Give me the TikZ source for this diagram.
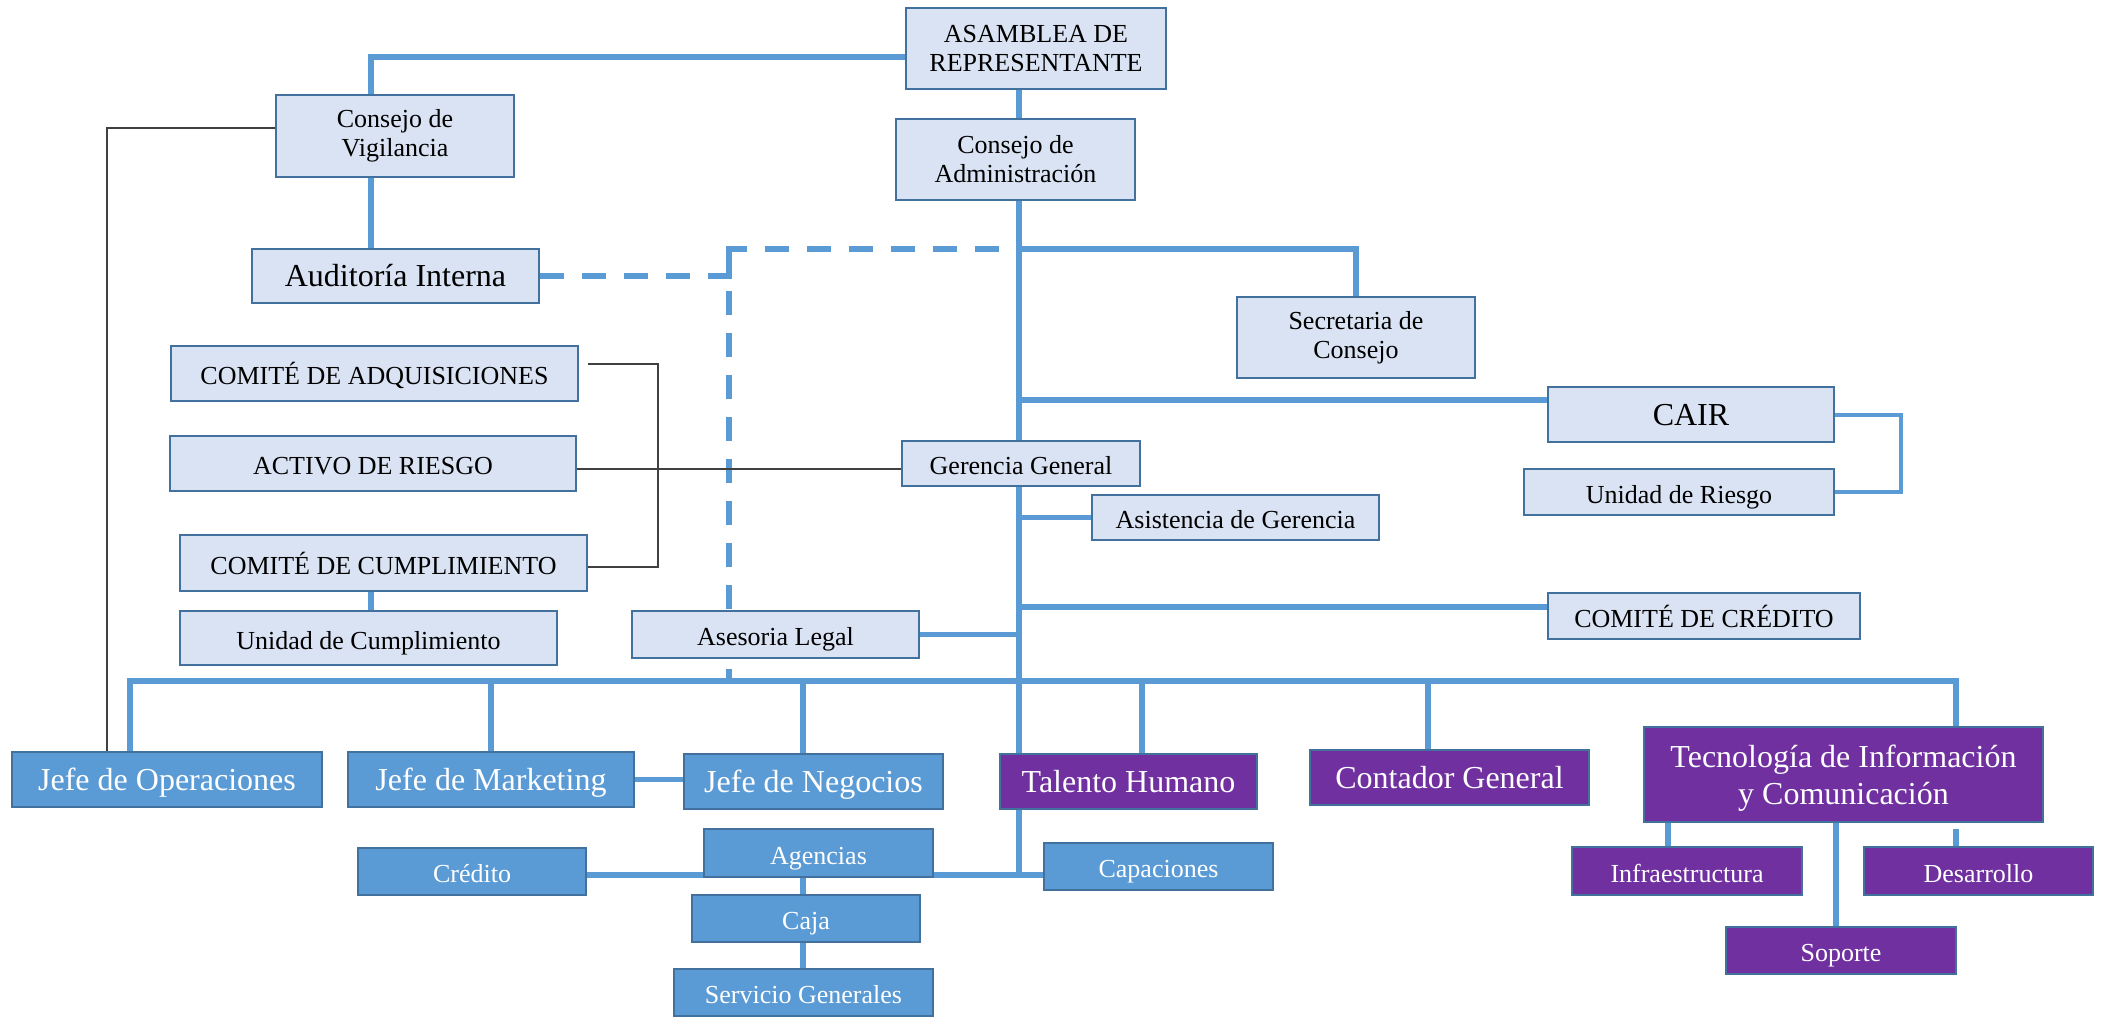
\documentclass[tikz,border=0pt]{standalone}
\usepackage{fontspec}
\setmainfont{Liberation Serif}
\usetikzlibrary{backgrounds}
\definecolor{paleblue}{HTML}{DAE3F3}
\definecolor{edgeblue}{HTML}{41719C}
\definecolor{linkblue}{HTML}{5B9BD5}
\definecolor{unitblue}{HTML}{5B9BD5}
\definecolor{deptpurple}{HTML}{7030A0}
\newcommand\orgsmall{\fontsize{13}{14.5}\selectfont}
\newcommand\orgbig{\fontsize{16}{18.5}\selectfont}
% a box given by its edges in pixels: name, left, top, right, bottom, style, text
\newcommand\orgbox[7]{%
  \node[#6, minimum width={(#4-#2-2)*0.5pt}, minimum height={(#5-#3-2)*0.5pt}]
    (#1) at ({(#2+#4)/2},{(#3+#5)/2}) {#7};}

\begin{document}
\begin{tikzpicture}[x=0.5pt,y=-0.5pt,
  box/.style={draw=edgeblue, line width=1.2pt, inner sep=0pt, align=center, font=\orgsmall},
  palebox/.style={box, fill=paleblue, text=black},
  unitbox/.style={box, fill=unitblue, text=white},
  deptbox/.style={box, fill=deptpurple, text=white},
  bigtext/.style={font=\orgbig},
  oneline/.style={text height=1.1em, text depth=0pt},
  bigline/.style={bigtext, text height=1.05em, text depth=0pt},
  conn/.style={draw=linkblue, line width=2.75pt},
  bracketline/.style={draw=linkblue, line width=2pt},
  dashconn/.style={conn, dash pattern=on 12pt off 9pt},
  fineline/.style={draw=black!75, line width=0.7pt},
]
\useasboundingbox (0,0) rectangle (2105,1017);

% ---- governing bodies ----
\orgbox{asam}{905}{7}{1167}{90}{palebox}{ASAMBLEA DE\\REPRESENTANTE}
\orgbox{cadm}{895}{118}{1136}{201}{palebox}{Consejo de\\Administración}
\orgbox{cvig}{275}{94}{515}{178}{palebox}{Consejo de\\Vigilancia}
\orgbox{audit}{251}{248}{540}{304}{palebox,bigline}{Auditoría Interna}
\orgbox{secr}{1236}{296}{1476}{379}{palebox}{Secretaria de\\Consejo}
\orgbox{cair}{1547}{386}{1835}{443}{palebox,bigline}{CAIR}
\orgbox{uriesgo}{1523}{468}{1835}{516}{palebox,oneline}{Unidad de Riesgo}
\orgbox{geren}{901}{440}{1141}{487}{palebox,oneline}{Gerencia General}
\orgbox{asist}{1091}{494}{1380}{541}{palebox,oneline}{Asistencia de Gerencia}

% ---- committees ----
\orgbox{cadq}{170}{345}{579}{402}{palebox,oneline}{COMITÉ DE ADQUISICIONES}
\orgbox{ariesgo}{169}{435}{577}{492}{palebox,oneline}{ACTIVO DE RIESGO}
\orgbox{ccump}{179}{534}{588}{592}{palebox,oneline}{COMITÉ DE CUMPLIMIENTO}
\orgbox{ucump}{179}{610}{558}{666}{palebox,oneline}{Unidad de Cumplimiento}
\orgbox{ccred}{1547}{592}{1861}{640}{palebox,oneline}{COMITÉ DE CRÉDITO}
\orgbox{aseso}{631}{610}{920}{659}{palebox,oneline}{Asesoria Legal}

% ---- departments ----
\orgbox{jope}{11}{751}{323}{808}{unitbox,bigline}{Jefe de Operaciones}
\orgbox{jmkt}{347}{751}{635}{808}{unitbox,bigline}{Jefe de Marketing}
\orgbox{jneg}{683}{753}{944}{810}{unitbox,bigline}{Jefe de Negocios}
\orgbox{thum}{999}{753}{1258}{810}{deptbox,bigline}{Talento Humano}
\orgbox{cont}{1309}{749}{1590}{806}{deptbox,bigline}{Contador General}
\orgbox{tic}{1643}{726}{2044}{823}{deptbox,bigtext}{\raisebox{-2pt}[\height][\depth]{\begin{tabular}{@{}c@{}}Tecnología de Información\\y Comunicación\end{tabular}}}

% ---- units ----
\orgbox{credito}{357}{847}{587}{896}{unitbox,oneline}{Crédito}
\orgbox{agencias}{703}{828}{934}{878}{unitbox,oneline}{Agencias}
\orgbox{capac}{1043}{842}{1274}{891}{unitbox,oneline}{Capaciones}
\orgbox{caja}{691}{894}{921}{943}{unitbox,oneline}{Caja}
\orgbox{servg}{673}{968}{934}{1017}{unitbox,oneline}{Servicio Generales}
\orgbox{infra}{1571}{846}{1803}{896}{deptbox,oneline}{Infraestructura}
\orgbox{desa}{1863}{846}{2094}{896}{deptbox,oneline}{Desarrollo}
\orgbox{sop}{1725}{926}{1957}{975}{deptbox,oneline}{Soporte}

% ---- reference lines for the connectors ----
\coordinate (spine) at (1019,0);
\coordinate (xCV) at (371,0);
\coordinate (xDash) at (729,0);
\coordinate (xBrk) at (658,0);
\coordinate (xBlk) at (107,0);
\coordinate (xJO) at (130,0);
\coordinate (xJN) at (803,0);
\coordinate (xTH) at (1142,0);
\coordinate (xCG) at (1428,0);
\coordinate (xTIC) at (1956,0);
\coordinate (xInf) at (1668,0);
\coordinate (xSop) at (1836,0);
\coordinate (xCair) at (1901,0);
\coordinate (yTop) at (0,57);
\coordinate (yVig) at (0,128);
\coordinate (ySec) at (0,249);
\coordinate (yCair) at (0,400);
\coordinate (yAdq) at (0,364);
\coordinate (yAct) at (0,469);
\coordinate (yCum) at (0,567);
\coordinate (yCred) at (0,607);
\coordinate (yBus) at (0,681);
\coordinate (yRow) at (0,875);

\begin{scope}[on background layer]
  % upper structure
  \draw[conn] (asam.west |- yTop) -| (cvig.north -| xCV);
  \draw[conn] (asam.south -| spine) -- (cadm.north -| spine);
  \draw[conn] (cvig.south -| xCV) -- (audit.north -| xCV);
  \draw[conn] (cadm.south -| spine) -- (geren.north -| spine);
  \draw[conn] (geren.south -| spine) -- (thum.north -| spine);
  \draw[conn] (thum.south -| spine) -- (spine |- yRow);
  \draw[conn] (spine |- ySec) -| (secr.north);
  \draw[conn] (spine |- yCair) -- (cair.west |- yCair);
  \draw[bracketline] (cair.east) -- (xCair |- cair.east) -- (xCair |- uriesgo.east) -- (uriesgo.east);
  \draw[conn] (spine |- asist.west) -- (asist.west);
  \draw[conn] (spine |- yCred) -- (ccred.west |- yCred);
  \draw[conn] (aseso.east) -- (spine |- aseso.east);
  % internal audit link (dashed)
  \draw[dashconn] (audit.east) -- (xDash |- audit.east) -- (xDash |- ySec) -- (spine |- ySec);
  \draw[dashconn] (xDash |- ySec) -- (xDash |- yBus);
  % committees
  \draw[fineline] ([xshift=4.5pt]cadq.east |- yAdq) -- (xBrk |- yAdq) -- (xBrk |- yCum) -- (ccump.east |- yCum);
  \draw[fineline] (ariesgo.east |- yAct) -- (geren.west |- yAct);
  \draw[conn] (ccump.south -| xCV) -- (ucump.north -| xCV);
  \draw[fineline] (cvig.west |- yVig) -| (jope.north -| xBlk);
  % department bus
  \draw[conn] (jope.north -| xJO) -- (xJO |- yBus) -- (xTIC |- yBus) -- (tic.north -| xTIC);
  \draw[conn] (jmkt.north) -- (jmkt.north |- yBus);
  \draw[conn] (jneg.north -| xJN) -- (xJN |- yBus);
  \draw[conn] (thum.north -| xTH) -- (xTH |- yBus);
  \draw[conn] (cont.north -| xCG) -- (xCG |- yBus);
  \draw[conn] (jmkt.east) -- (jneg.west |- jmkt.east);
  % units
  \draw[conn] (credito.east |- yRow) -- (capac.west |- yRow);
  \draw[conn] (agencias.south -| xJN) -- (caja.north -| xJN);
  \draw[conn] (caja.south -| xJN) -- (servg.north -| xJN);
  \draw[conn] (tic.south -| xInf) -- (infra.north -| xInf);
  \draw[conn] (tic.south -| xSop) -- (sop.north -| xSop);
  \draw[conn] ([yshift=-3pt]tic.south -| xTIC) -- (desa.north -| xTIC);
\end{scope}
\end{tikzpicture}
\end{document}
